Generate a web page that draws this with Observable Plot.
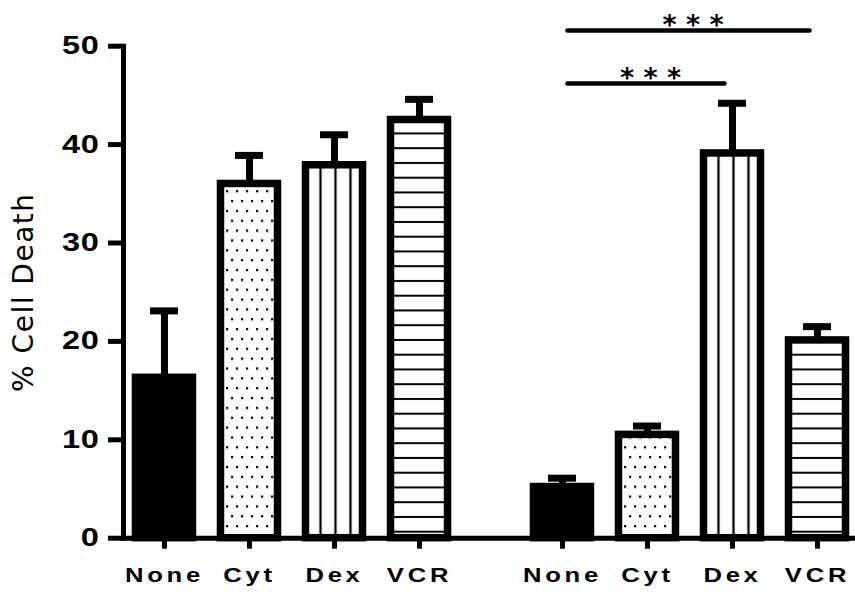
<!DOCTYPE html>
<html><head><meta charset="utf-8">
<script src="https://cdn.jsdelivr.net/npm/d3@7"></script>
<script src="https://cdn.jsdelivr.net/npm/@observablehq/plot@0.6"></script>
<style>html,body{margin:0;padding:0;background:#fff;overflow:hidden}#chart svg{display:block}</style>
</head><body><div id="chart"></div>
<script>
const groups = ["Group 1", "Group 2"];
const treatments = ["None", "Cyt", "Dex", "VCR"];
const meanGroup1 = [16.3, 36.0, 37.9, 42.5];
const semGroup1 = [6.8, 2.9, 3.1, 2.1];
const meanGroup2 = [5.2, 10.5, 39.1, 20.1];
const semGroup2 = [0.9, 0.9, 5.1, 1.4];
const yTicks = [0, 10, 20, 30, 40, 50];
const yLabel = "% Cell Death";
const sigFrom = ["None", "None"];
const sigTo = ["VCR", "Dex"];
const sigLevel = [51.6, 46.2];
const sigLabel = ["* * *", "* * *"];

const rows = [];
groups.forEach((g, gi) => treatments.forEach((t, ti) => {
  const m = gi === 0 ? meanGroup1[ti] : meanGroup2[ti];
  const e = gi === 0 ? semGroup1[ti] : semGroup2[ti];
  rows.push({group: g, treatment: t, mean: m, upper: m + e});
}));
const brackets = sigFrom.map((f, i) => ({group: groups[1], from: f, to: sigTo[i], level: sigLevel[i], label: sigLabel[i]}));

const fills = {None: "black", Cyt: "url(#dots)", Dex: "url(#vlines)", VCR: "url(#hlines)"};

const W = 855, H = 595;
const M = {top: 45.7, right: 0, bottom: 57.3, left: 123};
const fxPad = 0.1608, xPadIn = 0.3294, xPadOut = 0.129, xAlign = 0.568;
const fxStep = (W - M.left - M.right) / (groups.length - fxPad);
const facetW = fxStep * (1 - fxPad);
const facetGap = fxStep * fxPad;
const xStep = facetW / (treatments.length - xPadIn + 2 * xPadOut);
const capInset = (xStep * (1 - xPadIn) - 28) / 2;

const marks = [
  Plot.barY(rows, {fx: "group", x: "treatment", y: "mean", fill: d => fills[d.treatment], stroke: "black", strokeWidth: 7.5}),
  Plot.ruleX(rows, {fx: "group", x: "treatment", y1: "mean", y2: "upper", stroke: "black", strokeWidth: 7}),
  Plot.tickY(rows, {fx: "group", x: "treatment", y: "upper", stroke: "black", strokeWidth: 7, insetLeft: capInset, insetRight: capInset}),
  Plot.ruleY([{group: groups[0], base: 0}], {fx: "group", y: "base", stroke: "black", strokeWidth: 5, insetLeft: -2.5, insetRight: -facetGap}),
  Plot.ruleY([{group: groups[1], base: 0}], {fx: "group", y: "base", stroke: "black", strokeWidth: 5}),
  Plot.frame({anchor: "left", facetAnchor: "left", stroke: "black", strokeWidth: 5}),
  Plot.axisY({ticks: yTicks, tickSize: 15, tickPadding: 9, stroke: "black", strokeWidth: 5, fontSize: 25, fontWeight: "bold",
    label: yLabel, labelAnchor: "center", labelOffset: 110, labelArrow: false}),
  Plot.axisX({tickSize: 11, tickPadding: 18, stroke: "black", strokeWidth: 5, fontSize: 20.5, fontWeight: "bold", label: null}),
  Plot.arrow(brackets, {fx: "group", x1: "from", x2: "to", y1: "level", y2: "level", stroke: "black", strokeWidth: 4.5,
    headLength: 0, insetStart: 5, insetEnd: 8}),
  ...brackets.map(b => Plot.text([b], {
    fx: "group", x: "from", y: "level", text: "label",
    dx: xStep * (treatments.indexOf(b.to) - treatments.indexOf(b.from)) / 2 + 3,
    dy: 3.5, lineAnchor: "bottom", fontSize: 27, fontWeight: "bold", fill: "black"
  }))
];

const svg = Plot.plot({
  width: W, height: H,
  marginTop: M.top, marginRight: M.right, marginBottom: M.bottom, marginLeft: M.left,
  style: {fontFamily: "DejaVu Sans", background: "white", color: "black", overflow: "hidden"},
  fx: {domain: groups, paddingInner: fxPad, paddingOuter: 0, round: false, axis: null, label: null},
  x: {domain: treatments, paddingInner: xPadIn, paddingOuter: xPadOut, align: xAlign, round: false, axis: null, label: null},
  y: {domain: [0, 50], nice: false, axis: null, label: null},
  color: {type: "identity"},
  marks
});

const root = d3.select(svg);
root.selectAll('g[aria-label="x-axis tick label"]').attr("font-family", "Liberation Sans").style("letter-spacing", "3px");
root.selectAll('g[aria-label="y-axis tick label"]').attr("font-family", "Liberation Sans").style("letter-spacing", "0.5px");
root.selectAll('g[aria-label="y-axis label"]').attr("font-size", 28).attr("font-weight", "normal").style("letter-spacing", "1.5px");
root.selectAll('g[aria-label="y-axis label"] text').attr("font-size", 28).attr("font-weight", "normal");

const y0 = svg.scale("y").apply(0);
const defs = root.insert("defs", ":first-child");
const dots = defs.append("pattern").attr("id", "dots").attr("patternUnits", "userSpaceOnUse")
  .attr("width", 10).attr("height", 19.7);
dots.append("rect").attr("width", 10).attr("height", 19.7).attr("fill", "white");
dots.append("rect").attr("x", 1).attr("y", 3).attr("width", 2.2).attr("height", 2.2).attr("fill", "black");
dots.append("rect").attr("x", 6).attr("y", 12.85).attr("width", 2.2).attr("height", 2.2).attr("fill", "black");

const vl = defs.append("pattern").attr("id", "vlines").attr("patternUnits", "objectBoundingBox")
  .attr("patternContentUnits", "objectBoundingBox").attr("width", 0.263).attr("height", 1);
vl.append("rect").attr("width", 0.263).attr("height", 1).attr("fill", "white");
vl.append("rect").attr("x", 0).attr("width", 0.02).attr("height", 1).attr("fill", "black");
vl.append("rect").attr("x", 0.243).attr("width", 0.02).attr("height", 1).attr("fill", "black");

const hl = defs.append("pattern").attr("id", "hlines").attr("patternUnits", "userSpaceOnUse")
  .attr("x", 0).attr("y", y0 - 7).attr("width", 10).attr("height", 14.75);
hl.append("rect").attr("width", 10).attr("height", 14.75).attr("fill", "white");
hl.append("rect").attr("y", 0).attr("width", 10).attr("height", 2).attr("fill", "black");

document.getElementById("chart").appendChild(svg);

// widen the bold tick-label glyphs horizontally around their anchor, like the reference's type
function stretch(selection, k) {
  selection.each(function () {
    const x = parseFloat(this.getAttribute("x")) || 0;
    const t = this.getAttribute("transform") || "";
    this.setAttribute("transform", `${t} translate(${x},0) scale(${k},1) translate(${-x},0)`);
  });
}
stretch(root.selectAll('g[aria-label="x-axis tick label"] text'), 1.25);
stretch(root.selectAll('g[aria-label="y-axis tick label"] text'), 1.3);
</script>
</body></html>
